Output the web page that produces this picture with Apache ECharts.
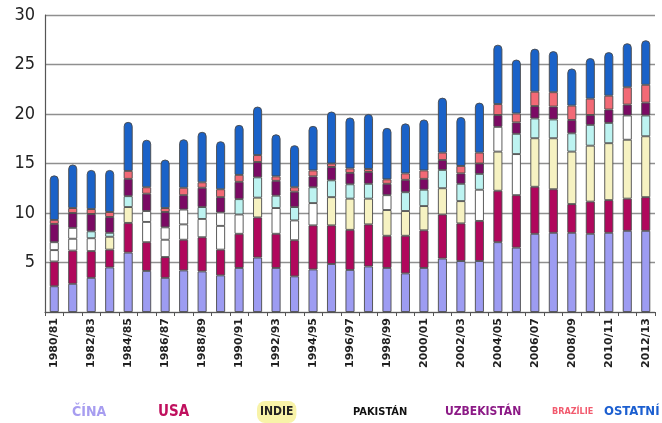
<!DOCTYPE html>
<html>
<head>
<meta charset="utf-8">
<script src="https://cdn.jsdelivr.net/npm/echarts@6/dist/echarts.min.js"></script>
<style>
html,body{margin:0;padding:0;background:#fff;}
#c{width:662px;height:423px;}
</style>
</head>
<body>
<div id="c"></div>
<script>
const years = ['1980/81','1981/82','1982/83','1983/84','1984/85','1985/86','1986/87','1987/88','1988/89','1989/90',
'1990/91','1991/92','1992/93','1993/94','1994/95','1995/96','1996/97','1997/98','1998/99','1999/00',
'2000/01','2001/02','2002/03','2003/04','2004/05','2005/06','2006/07','2007/08','2008/09','2009/10',
'2010/11','2011/12','2012/13'];
const cina = [2.6,2.85,3.45,4.5,6.0,4.15,3.45,4.2,4.1,3.7,4.45,5.5,4.45,3.6,4.3,4.85,4.25,4.6,4.45,3.9,4.45,5.4,5.15,5.15,7.05,6.5,7.9,8.0,8.0,7.9,8.0,8.2,8.2];
const usa = [2.5,3.35,2.7,1.8,3.0,2.9,2.1,3.1,3.45,2.6,3.45,4.05,3.45,3.65,4.45,3.9,4.05,4.25,3.25,3.8,3.8,4.45,3.8,4.05,5.2,5.3,4.75,4.4,2.9,3.25,3.3,3.25,3.4];
const indie = [1.15,1.2,1.3,1.3,1.6,2.05,1.75,1.55,1.85,2.4,1.95,2.0,2.6,2.0,2.25,2.85,3.15,2.6,2.6,2.5,2.45,2.65,2.25,3.15,3.95,4.15,4.9,5.15,5.3,5.65,5.75,5.95,6.15];
const pakistan = [0.8,1.1,0.7,0.4,1.1,1.1,1.25,1.5,1.2,1.35,1.55,2.05,1.25,1.35,1.6,1.7,1.45,1.5,1.5,1.9,1.65,1.85,1.75,1.6,2.5,2.05,2.0,1.9,1.85,2.1,2.05,2.45,2.1];
const uzbekistan = [1.85,1.5,1.75,1.6,1.75,1.75,1.55,1.45,1.95,1.55,1.75,1.55,1.5,1.55,1.1,1.35,1.15,1.2,1.15,1.25,1.1,1.0,1.05,1.05,1.2,1.15,1.25,1.3,1.35,1.0,1.35,1.1,1.3];
const brazilie = [0.4,0.5,0.5,0.5,0.8,0.65,0.4,0.75,0.55,0.8,0.7,0.7,0.45,0.45,0.6,0.35,0.45,0.3,0.45,0.65,0.85,0.75,0.75,1.1,1.1,0.9,1.45,1.45,1.45,1.65,1.4,1.75,1.8];
const ostatni = [4.5,4.4,3.95,4.25,4.95,4.8,4.9,4.9,5.1,4.85,5.05,4.9,4.25,4.25,4.5,5.25,5.15,5.55,5.2,5.05,5.15,5.55,4.95,5.05,6.0,5.45,4.35,4.15,3.75,4.1,4.4,4.45,4.5];
// drawn tone of the India / Pakistan segments in each bar (Y = yellow, W = white, C = cyan)
const indieTone = ['W','W','W','Y','Y','W','W','W','W','W','W','Y','W','W','W','Y','Y','Y','Y','Y','Y','Y','Y','W','Y','W','Y','Y','Y','Y','Y','Y','Y'];
const pakTone = ['W','W','C','C','C','W','W','W','C','W','C','C','C','C','C','C','C','C','W','C','C','C','C','C','W','C','C','C','C','C','C','W','C'];
const yTicks = [0,5,10,15,20,25,30];

const toneColor = {Y:'#f6f2c2', W:'#ffffff', C:'#bdf3f1'};
const border = {borderColor:'#4a4a4a', borderWidth:0.9};
function mk(name, data, color, extra){
  return Object.assign({
    name, type:'bar', stack:'t', barWidth:9, data,
    itemStyle:Object.assign({color}, border)
  }, extra||{});
}
const series = [
  mk('ČÍNA', cina, '#9d9cf2'),
  mk('USA', usa, '#b0075c'),
  mk('INDIE', indie.map((v,i)=>({value:v,itemStyle:{color:toneColor[indieTone[i]]}})), '#f6f2c2'),
  mk('PAKISTÁN', pakistan.map((v,i)=>({value:v,itemStyle:{color:toneColor[pakTone[i]]}})), '#ffffff'),
  mk('UZBEKISTÁN', uzbekistan, '#7b0a64'),
  mk('BRAZÍLIE', brazilie, '#f26a76'),
  mk('OSTATNÍ', ostatni, '#1a62c8', {itemStyle:Object.assign({color:'#1a62c8', borderRadius:[4,4,0,0]}, border)})
];

const legendItems = [
  {name:'ČÍNA', color:'#a79df0', x:64, fs:14},
  {name:'USA', color:'#c0105e', x:150, fs:15},
  {name:'INDIE', color:'#222', x:252, fs:12, bg:'#f8f3a8'},
  {name:'PAKISTÁN', color:'#111', x:345, fs:11},
  {name:'UZBEKISTÁN', color:'#8c1a86', x:437, fs:12},
  {name:'BRAZÍLIE', color:'#f25a6e', x:544, fs:9},
  {name:'OSTATNÍ', color:'#1c5fd0', x:596, fs:13}
];
const legend = legendItems.map(it=>({
  data:[{name:it.name}], left:it.x, top:401, icon:'none', itemWidth:0, itemHeight:0,
  padding:0, itemGap:0, selectedMode:true,
  textStyle:Object.assign({color:it.color, fontFamily:'DejaVu Sans Condensed', fontSize:it.fs, fontWeight:'bold', padding:[2,3], lineHeight:18},
    it.bg?{backgroundColor:it.bg, borderRadius:8}:{})
}));

const chart = echarts.init(document.getElementById('c'));
chart.setOption({
  animation:false,
  backgroundColor:'#fff',
  legend,
  grid:{left:45, right:7, top:15, bottom:111},
  xAxis:{
    type:'category', data:years,
    axisLine:{lineStyle:{color:'#555', width:1.2}},
    axisTick:{show:true, interval:0, length:4, lineStyle:{color:'#555'}},
    axisLabel:{interval:1, rotate:90, margin:6, color:'#222', fontFamily:'DejaVu Sans', fontWeight:'bold', fontSize:11}
  },
  yAxis:{
    type:'value', min:0, max:30, interval:5,
    axisLine:{show:true, lineStyle:{color:'#555', width:1.2}},
    axisTick:{show:false},
    splitLine:{lineStyle:{color:'#8f8f8f', width:1.4}},
    axisLabel:{color:'#222', fontFamily:'DejaVu Sans Condensed', fontSize:18, margin:10,
      formatter:v=>yTicks.indexOf(v)>0?String(v):''}
  },
  series
});
</script>
</body>
</html>
